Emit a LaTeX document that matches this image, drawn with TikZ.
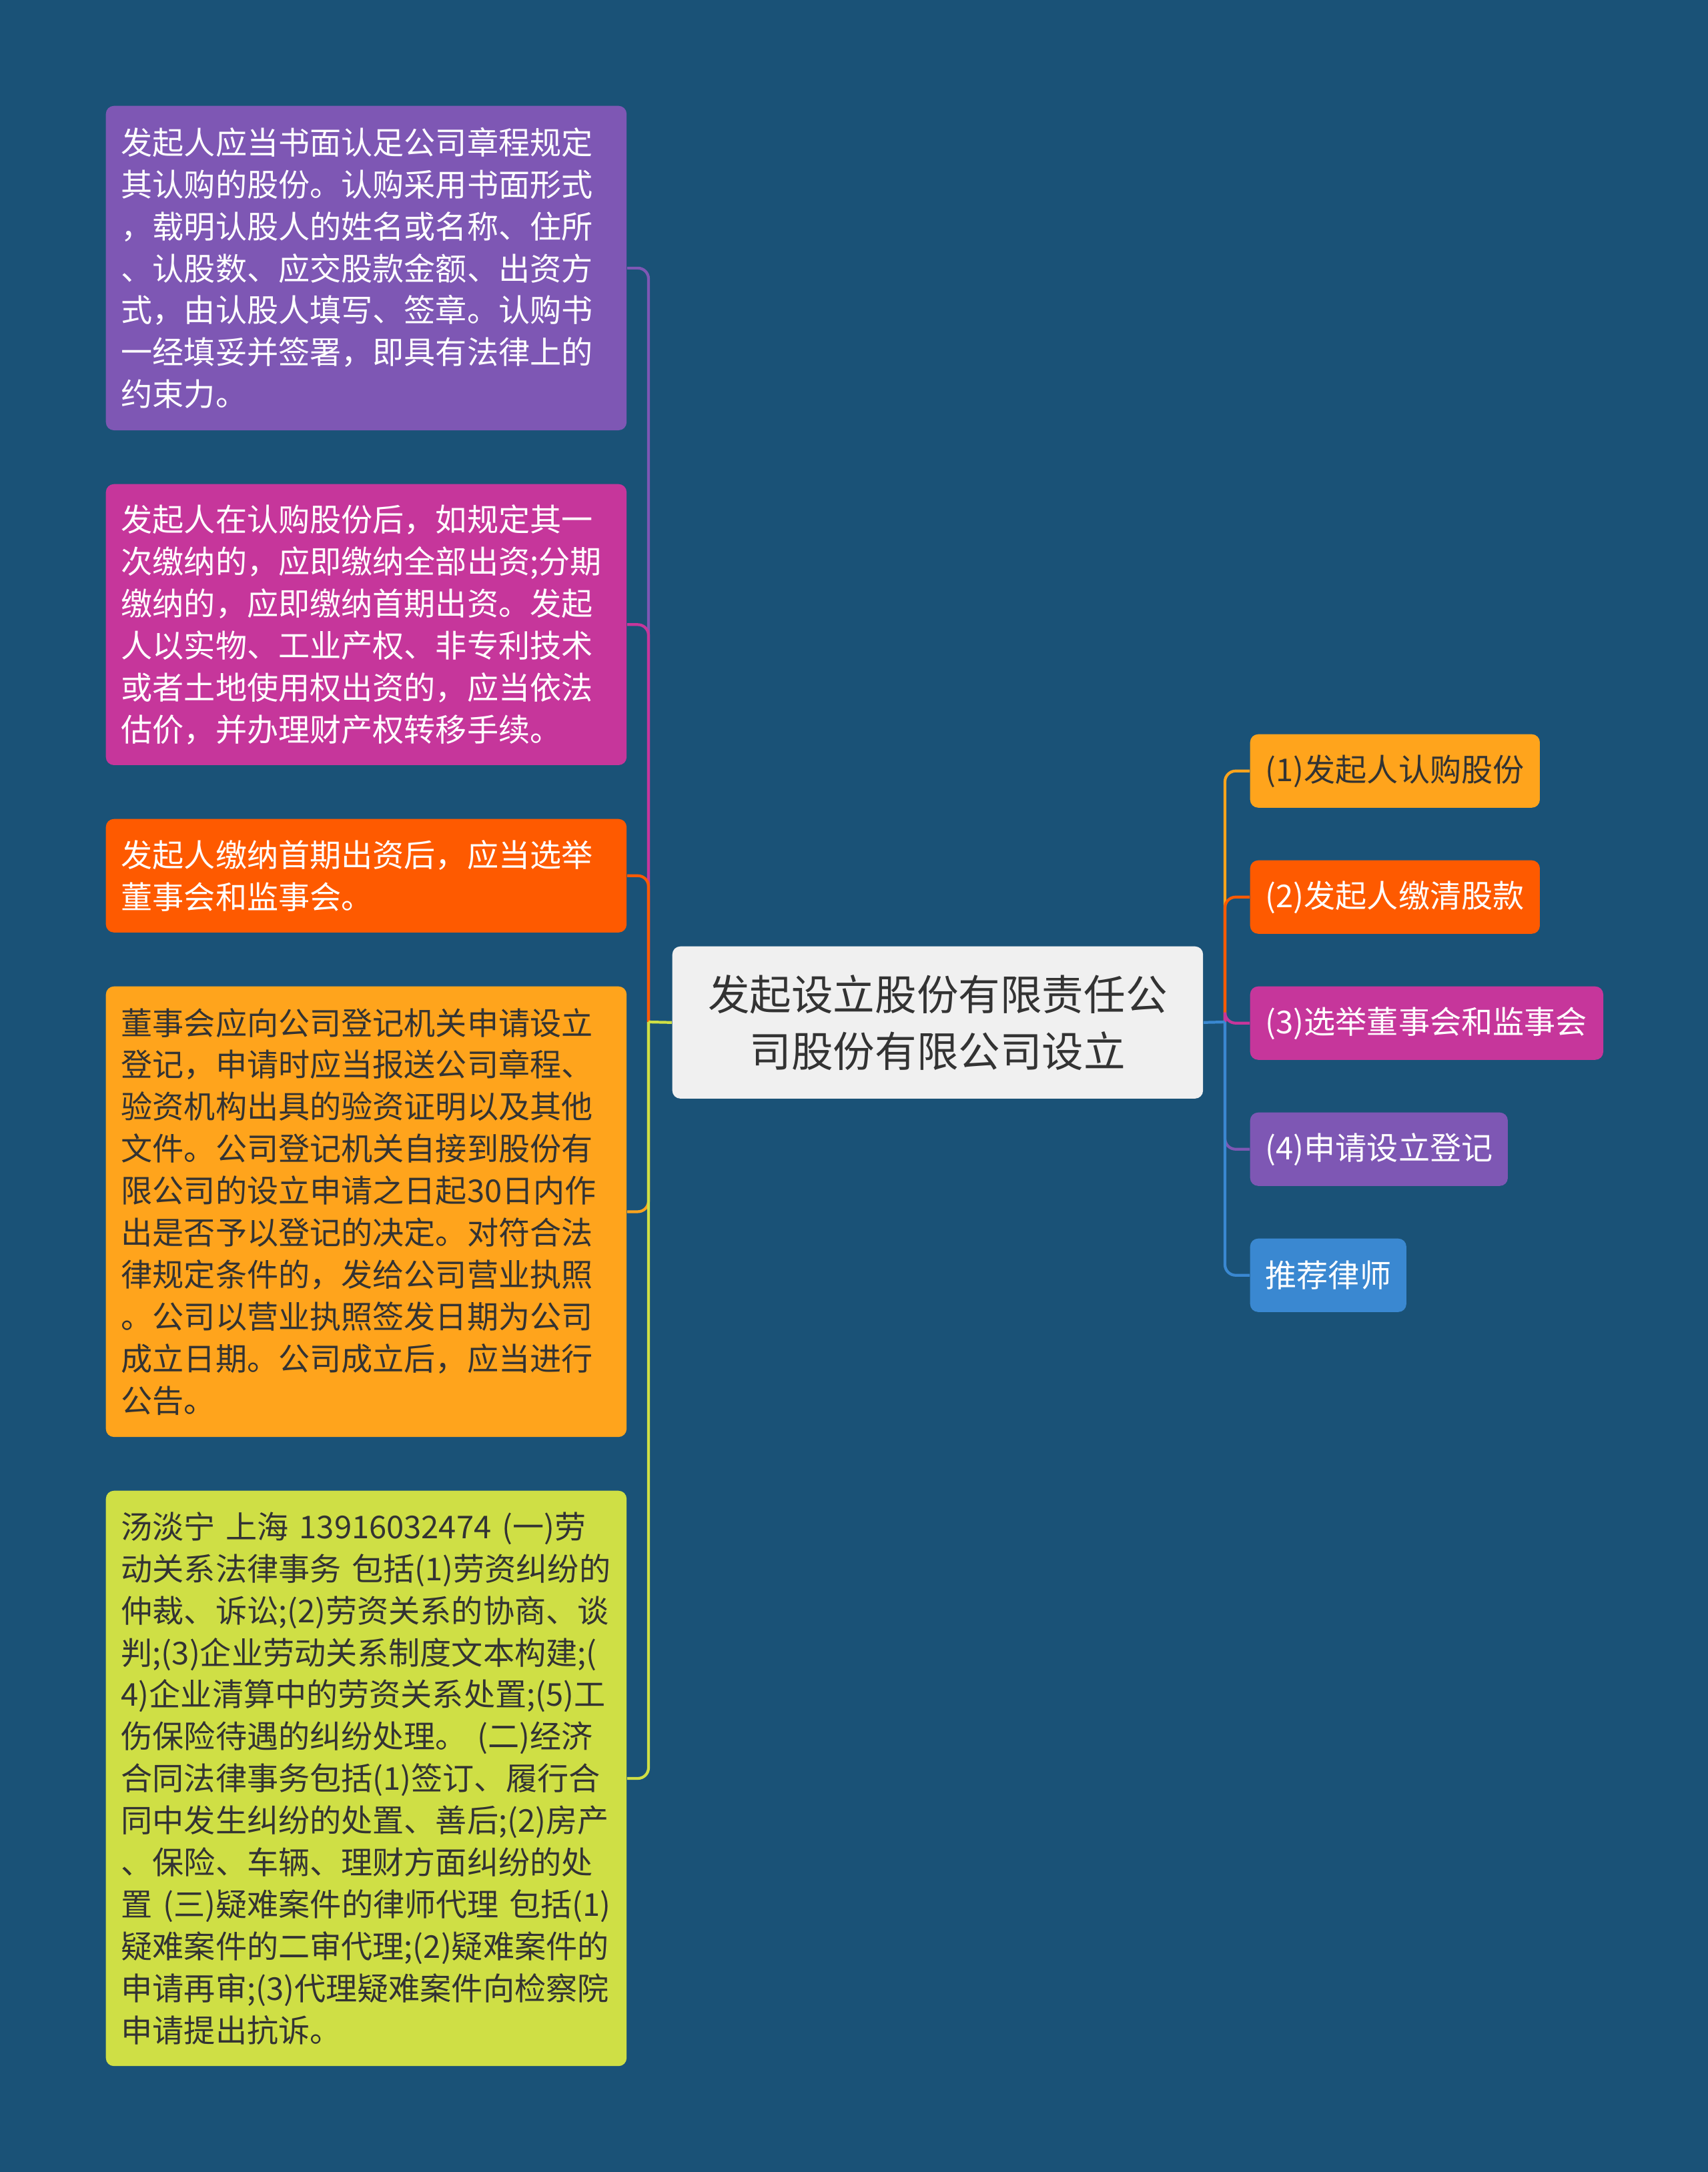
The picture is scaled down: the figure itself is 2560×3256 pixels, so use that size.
\documentclass[tikz,border=0pt]{standalone}
\usepackage{fontspec}
\setmainfont{Noto Sans CJK SC}
\usepackage{xcolor}
\definecolor{bgBlue}{HTML}{1A5277}
\definecolor{cPurple}{HTML}{7E57B4}
\definecolor{cMagenta}{HTML}{C6369B}
\definecolor{cRed}{HTML}{FE5A00}
\definecolor{cOrange}{HTML}{FFA41C}
\definecolor{cLime}{HTML}{CFDF45}
\definecolor{cBlue}{HTML}{3A88D1}
\definecolor{cRoot}{HTML}{F0F0F0}
\definecolor{cText}{HTML}{333333}

\begin{document}
\begin{tikzpicture}[x=0.01cm, y=-0.01cm,
  leaf/.style={rectangle, rounded corners=0.12cm, anchor=north west, inner xsep=0.23cm, inner ysep=0pt, align=left, text width=7.34cm, font=\fontsize{13.4pt}{17.9pt}\selectfont},
  tag/.style={rectangle, rounded corners=0.12cm, anchor=north west, inner xsep=0.23cm, inner ysep=0pt, align=left, minimum height=1.10cm, font=\fontsize{13.4pt}{17.9pt}\selectfont, text=white},
  hub/.style={rectangle, rounded corners=0.12cm, anchor=north west, fill=cRoot, text=cText, align=center, minimum width=7.95cm, minimum height=2.28cm, inner sep=0pt, font=\fontsize{17.8pt}{24.2pt}\selectfont},
  link/.style={line width=1.2pt, rounded corners=0.16cm}]
\fill[bgBlue] (0,0) rectangle (2560,3256);
\useasboundingbox (0,0) rectangle (2560,3256);

% centre
\node[hub] (root) at (1007,1418) {发起设立股份有限责任公\\司股份有限公司设立};

% left side
\node[leaf, fill=cPurple, text=white, minimum height=4.86cm] (n1) at (158,158) {发起人应当书面认足公司章程规定\\其认购的股份。认购采用书面形式\\，载明认股人的姓名或名称、住所\\、认股数、应交股款金额、出资方\\式，由认股人填写、签章。认购书\\一经填妥并签署，即具有法律上的\\约束力。};
\node[leaf, fill=cMagenta, text=white, minimum height=4.21cm] (n2) at (158,725) {发起人在认购股份后，如规定其一\\次缴纳的，应即缴纳全部出资;分期\\缴纳的，应即缴纳首期出资。发起\\人以实物、工业产权、非专利技术\\或者土地使用权出资的，应当依法\\估价，并办理财产权转移手续。};
\node[leaf, fill=cRed, text=white, minimum height=1.70cm] (n3) at (158,1227) {发起人缴纳首期出资后，应当选举\\董事会和监事会。};
\node[leaf, fill=cOrange, text=cText, minimum height=6.75cm] (n4) at (158,1478) {董事会应向公司登记机关申请设立\\登记，申请时应当报送公司章程、\\验资机构出具的验资证明以及其他\\文件。公司登记机关自接到股份有\\限公司的设立申请之日起30日内作\\出是否予以登记的决定。对符合法\\律规定条件的，发给公司营业执照\\。公司以营业执照签发日期为公司\\成立日期。公司成立后，应当进行\\公告。};
\node[leaf, fill=cLime, text=cText, minimum height=8.62cm] (n5) at (158,2234) {汤淡宁 上海 13916032474 (一)劳\\动关系法律事务 包括(1)劳资纠纷的\\仲裁、诉讼;(2)劳资关系的协商、谈\\判;(3)企业劳动关系制度文本构建;(\\4)企业清算中的劳资关系处置;(5)工\\伤保险待遇的纠纷处理。 (二)经济\\合同法律事务包括(1)签订、履行合\\同中发生纠纷的处置、善后;(2)房产\\、保险、车辆、理财方面纠纷的处\\置 (三)疑难案件的律师代理 包括(1)\\疑难案件的二审代理;(2)疑难案件的\\申请再审;(3)代理疑难案件向检察院\\申请提出抗诉。};

% right side
\node[tag, fill=cOrange, text=cText, text width=3.88cm] (r1) at (1873,1100) {(1)发起人认购股份};
\node[tag, fill=cRed, text width=3.88cm] (r2) at (1873,1289) {(2)发起人缴清股款};
\node[tag, fill=cMagenta, text width=4.83cm] (r3) at (1873,1478) {(3)选举董事会和监事会};
\node[tag, fill=cPurple, text width=3.40cm] (r4) at (1873,1667) {(4)申请设立登记};
\node[tag, fill=cBlue, text width=1.88cm] (r5) at (1873,1856) {推荐律师};

% branches
\coordinate (sl) at (972,1532);
\coordinate (sr) at (1836,1532);
\draw[link, cPurple] (sl) |- (n1.east);
\draw[link, cMagenta] (sl) |- (n2.east);
\draw[link, cRed] (sl) |- (n3.east);
\draw[link, cOrange] (sl) |- (n4.east);
\draw[link, cLime] (sl) |- (n5.east);
\draw[link, cLime] (root.west) -- (sl);
\draw[link, cOrange] (sr) |- (r1.west);
\draw[link, cRed] (sr) |- (r2.west);
\draw[link, cMagenta] (sr) |- (r3.west);
\draw[link, cPurple] (sr) |- (r4.west);
\draw[link, cBlue] (sr) |- (r5.west);
\draw[link, cBlue] (root.east) -- (sr);
\end{tikzpicture}
\end{document}
